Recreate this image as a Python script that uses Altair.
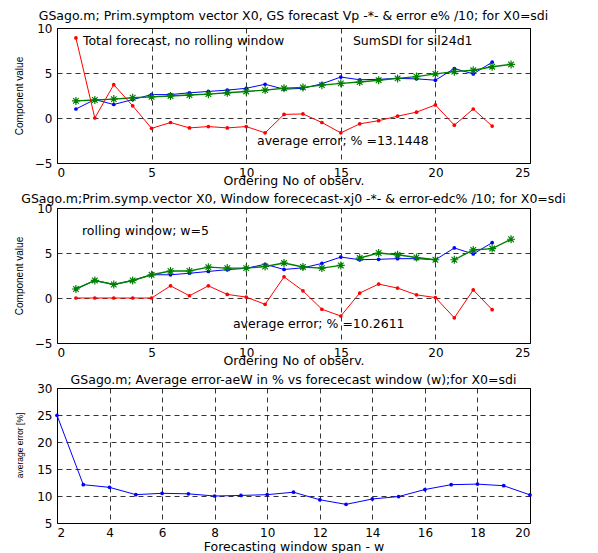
import altair as alt
import pandas as pd

# ---------------- data ----------------
obs = list(range(1, 25))

# top panel (GS forecast, no rolling window)
top_err = [8.9, 0.0, 3.7, 1.35, -1.15, -0.5, -1.1, -0.95, -1.1, -0.95, -1.65, 0.4,
           0.45, -0.5, -1.65, -0.65, -0.3, 0.2, 0.65, 1.45, -0.8, 1.0, -0.9]
top_x0 = [1.0, 2.05, 1.5, 2.05, 2.6, 2.6, 2.8, 2.95, 3.1, 3.3, 3.75, 3.2,
          3.3, 3.8, 4.55, 4.25, 4.3, 4.4, 4.35, 4.2, 5.5, 4.9, 6.2]
top_fc = [1.9, 2.0, 2.1, 2.25, 2.35, 2.45, 2.55, 2.65, 2.8, 2.95, 3.1, 3.3,
          3.4, 3.65, 3.85, 4.0, 4.2, 4.4, 4.6, 4.9, 5.15, 5.3, 5.7, 5.95]
top_seg = [1] * 24

# middle panel (rolling window w=5)
mid_err = [0, 0, 0, 0, 0, 1.35, 0.25, 1.35, 0.4, 0.1, -0.7, 2.35,
           0.8, -1.25, -2.0, 0.55, 1.55, 1.1, 0.35, 0.05, -2.2, 0.9, -1.3]
mid_x0 = [1.0, 1.95, 1.5, 1.95, 2.58, 2.58, 2.75, 2.95, 3.15, 3.3, 3.75, 3.17,
          3.35, 3.84, 4.55, 4.25, 4.3, 4.37, 4.37, 4.25, 5.56, 4.89, 6.15]
mid_fc = [1.0, 1.95, 1.5, 1.95, 2.58, 3.0, 3.0, 3.43, 3.32, 3.32, 3.5, 3.88,
          3.45, 3.32, 3.62, 4.44, 5.0, 4.8, 4.5, 4.25, 4.25, 5.34, 5.49, 6.53]
mid_seg = [1] * 15 + [2] * 5 + [3] * 4

# bottom panel (average error vs window)
win = list(range(2, 21))
avg_err = [24.95, 12.1, 11.6, 10.25, 10.5, 10.4, 10.0, 10.1, 10.25, 10.7, 9.3,
           8.45, 9.45, 9.9, 11.2, 12.1, 12.2, 11.9, 10.2]

top_title = "GSago.m; Prim.symptom vector X0, GS forecast Vp -*- & error e% /10; for X0=sdi"
mid_title = "GSago.m;Prim.symp.vector X0, Window forececast-xj0 -*- & error-edc% /10; for X0=sdi"
bot_title = "GSago.m; Average error-aeW in % vs forececast window (w);for X0=sdi"

top_notes_x = [1.37, 15.64, 10.57]
top_notes_y = [8.55, 8.55, -2.55]
top_notes = ["Total forecast, no rolling window", "SumSDI for sil24d1", "average error; % =13.1448"]
mid_notes_x = [1.32, 9.3]
mid_notes_y = [7.5, -2.9]
mid_notes = ["rolling window; w=5", "average error; % =10.2611"]

# ---------------- style ----------------
FONT = "DejaVu Sans"
FS = 12.5
FS_TICK = 12
W, H = 473, 135
ASTER = "M-1,0L1,0M0,-1L0,1M-0.7,-0.7L0.7,0.7M-0.7,0.7L0.7,-0.7"
RED, BLUE, GREEN = "#ff0000", "#0000ff", "#008000"
NB = "\u00a0"


def axis_common(**kw):
    base = dict(grid=True, gridColor="black", gridDash=[5, 4], gridWidth=0.8, gridOpacity=1,
                domain=False, ticks=False, labelFont=FONT, labelFontSize=FS_TICK, labelColor="black",
                titleFont=FONT, titleFontSize=FS, titleFontWeight="normal", titleColor="black")
    base.update(kw)
    return alt.Axis(**base)


def make_title(text, offset):
    return alt.TitleParams(text, anchor="middle", frame="group", offset=offset, font=FONT,
                           fontSize=FS, fontWeight="normal", baseline="alphabetic", color="black")


def series_panel(err, x0, fc, seg, title, offset, nx, ny, nt):
    df_err = pd.DataFrame({"x": obs[:len(err)], "y": err})
    df_x0 = pd.DataFrame({"x": obs[:len(x0)], "y": x0})
    df_fc = pd.DataFrame({"x": obs[:len(fc)], "y": fc, "seg": seg})
    df_txt = pd.DataFrame({"x": nx, "y": ny, "t": nt})

    xenc = alt.X("x:Q", scale=alt.Scale(domain=[0, 25], nice=False),
                 axis=axis_common(values=[0, 5, 10, 15, 20, 25], title="Ordering No of observ.",
                                  labelPadding=4, titleY=21, titleBaseline="alphabetic"))
    yenc = alt.Y("y:Q", scale=alt.Scale(domain=[-5, 10], nice=False),
                 axis=axis_common(values=[-5, 0, 5, 10], title="Component value",
                                  labelPadding=5, titleFont="Liberation Sans", titleFontSize=10,
                                  titleX=-35, titleY=H / 2, titleAngle=270,
                                  titleBaseline="alphabetic", titleAlign="center"))

    err_line = alt.Chart(df_err).mark_line(color=RED, strokeWidth=1).encode(x=xenc, y=yenc)
    err_pts = alt.Chart(df_err).mark_point(color=RED, filled=True, size=14, opacity=1).encode(x=xenc, y=yenc)
    x0_line = alt.Chart(df_x0).mark_line(color=BLUE, strokeWidth=1).encode(x=xenc, y=yenc)
    x0_pts = alt.Chart(df_x0).mark_point(color=BLUE, filled=True, size=14, opacity=1).encode(x=xenc, y=yenc)
    fc_line = alt.Chart(df_fc).mark_line(color=GREEN, strokeWidth=1.4).encode(
        x=xenc, y=yenc, detail="seg:N")
    fc_pts = alt.Chart(df_fc).mark_point(color=GREEN, shape=ASTER, size=64, strokeWidth=1.2,
                                         filled=False, opacity=1).encode(x=xenc, y=yenc)
    txt = alt.Chart(df_txt).mark_text(align="left", baseline="middle", font=FONT, fontSize=FS,
                                      color="black").encode(x=xenc, y=yenc, text="t:N")
    return alt.layer(x0_line, x0_pts, fc_line, fc_pts, err_line, err_pts, txt).properties(
        width=W, height=H, title=make_title(title, offset))


# leading/trailing no-break spaces shift the centred titles as in the original
top = series_panel(top_err, top_x0, top_fc, top_seg, NB * 9 + top_title, -10.5,
                   top_notes_x, top_notes_y, top_notes)
mid = series_panel(mid_err, mid_x0, mid_fc, mid_seg, NB * 7 + mid_title, -13,
                   mid_notes_x, mid_notes_y, mid_notes)

df_bot = pd.DataFrame({"w": win, "e": avg_err})
bx = alt.X("w:Q", scale=alt.Scale(domain=[2, 20], nice=False),
           axis=axis_common(values=list(range(2, 21, 2)), title="Forecasting window span - w",
                            labelPadding=4, titleY=27, titleBaseline="alphabetic"))
by = alt.Y("e:Q", scale=alt.Scale(domain=[5, 30], nice=False),
           axis=axis_common(values=[5, 10, 15, 20, 25, 30], title="average error [%]",
                            labelPadding=5, titleFont="Liberation Sans", titleFontSize=8.5,
                            titleX=-35, titleY=57, titleAngle=270,
                            titleBaseline="alphabetic", titleAlign="center"))
bot = alt.layer(
    alt.Chart(df_bot).mark_line(color=BLUE, strokeWidth=1).encode(x=bx, y=by),
    alt.Chart(df_bot).mark_point(color=BLUE, filled=True, size=14, opacity=1).encode(x=bx, y=by),
).properties(width=W, height=H, title=make_title(bot_title + NB, -14.5))

chart = alt.vconcat(top, mid, bot, spacing=45, bounds="flush").configure_view(
    stroke="black", strokeWidth=1
).properties(padding={"left": 5, "top": 1, "right": 5, "bottom": 2}, background="white")

chart.save("out.html", embed_options={"renderer": "svg", "actions": False})
